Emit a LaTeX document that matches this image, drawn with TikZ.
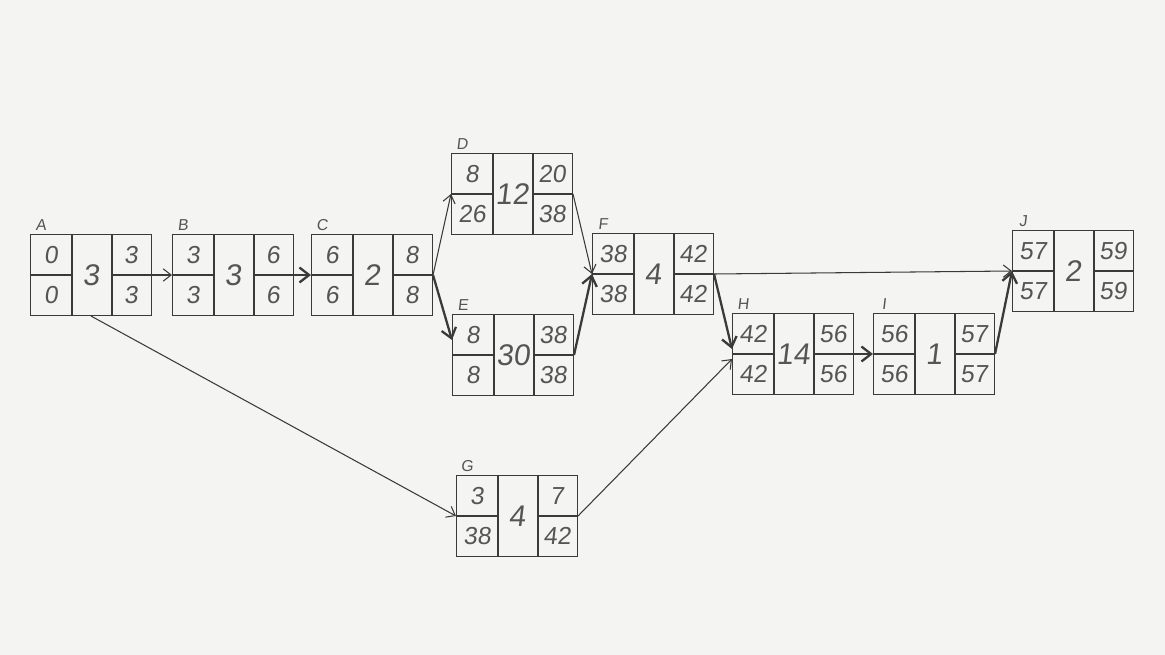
\documentclass[tikz,border=0pt]{standalone}
\usepackage{fontspec}
\newfontfamily\hand[FakeSlant=0.12]{Liberation Sans}
\usetikzlibrary{arrows.meta,calc}
\definecolor{paper}{HTML}{F4F4F3}
\definecolor{pencil}{HTML}{3A3A3A}
\definecolor{ink}{HTML}{555555}
\tikzset{
  abox/.style={draw=pencil, line width=0.6pt, rectangle, minimum width=2.42cm, minimum height=1.62cm, inner sep=0pt},
  cellline/.style={draw=pencil, line width=0.6pt},
  numtxt/.style={font=\hand\fontsize{14}{14}\selectfont, text=ink, inner sep=0pt},
  durtxt/.style={font=\hand\fontsize{17}{17}\selectfont, text=ink, inner sep=0pt},
  labtxt/.style={font=\hand\fontsize{9}{9}\selectfont, text=ink, inner sep=0pt},
  thinarrow/.style={draw=pencil, line width=0.6pt, -{Straight Barb[length=4.5pt,width=7pt]}},
  thickarrow/.style={draw=pencil, line width=1.3pt, -{Straight Barb[length=5.5pt,width=8.5pt]}},
}
% name, x, y, label, es, ls, dur, ef, lf
\newcommand\actbox[9]{%
  \node[abox] (#1) at (#2,#3) {};
  \draw[cellline] ({#2-19},{#3-40.5}) -- ({#2-19},{#3+40.5});
  \draw[cellline] ({#2+21},{#3-40.5}) -- ({#2+21},{#3+40.5});
  \draw[cellline] ({#2-60.5},#3) -- ({#2-19},#3);
  \draw[cellline] ({#2+21},#3) -- ({#2+60.5},#3);
  \node[labtxt] (#1lab) at ({#2-50},{#3-50}) {#4};
  \node[numtxt] (#1es) at ({#2-40},{#3-20}) {#5};
  \node[numtxt] (#1ls) at ({#2-40},{#3+20}) {#6};
  \node[durtxt] (#1dur) at (#2,#3) {#7};
  \node[numtxt] (#1ef) at ({#2+40},{#3-20}) {#8};
  \node[numtxt] (#1lf) at ({#2+40},{#3+20}) {#9};
}
\begin{document}
\begin{tikzpicture}[x=0.02cm,y=-0.02cm]
\fill[paper] (0,0) rectangle (1165,655);
\useasboundingbox (0,0) rectangle (1165,655);
\actbox{A}{91}{275}{A}{0}{0}{3}{3}{3}
\actbox{B}{233}{275}{B}{3}{3}{3}{6}{6}
\actbox{C}{372}{275}{C}{6}{6}{2}{8}{8}
\actbox{D}{512}{194}{D}{8}{26}{12}{20}{38}
\actbox{E}{513}{355}{E}{8}{8}{30}{38}{38}
\actbox{F}{653}{274}{F}{38}{38}{4}{42}{42}
\actbox{G}{517}{516}{G}{3}{38}{4}{7}{42}
\actbox{H}{793}{354}{H}{42}{42}{14}{56}{56}
\actbox{I}{934}{354}{I}{56}{56}{1}{57}{57}
\actbox{J}{1073}{271}{J}{57}{57}{2}{59}{59}
\draw[thinarrow] (A.east) -- (B.west);
\draw[thickarrow] (B.east) -- (C.west);
\draw[thinarrow] (C.east) -- (D.west);
\draw[thickarrow] (C.east) -- ([yshift=0.3cm]E.west);
\draw[thinarrow] (D.east) -- (F.west);
\draw[thickarrow] (E.east) -- (F.west);
\draw[thinarrow] (F.east) -- (J.west);
\draw[thickarrow] (F.east) -- ([yshift=0.1cm]H.west);
\draw[thinarrow] (A.south) -- (G.west);
\draw[thinarrow] (G.east) -- ([yshift=-0.1cm]H.west);
\draw[thickarrow] (H.east) -- (I.west);
\draw[thickarrow] (I.east) -- (J.west);
\end{tikzpicture}
\end{document}
